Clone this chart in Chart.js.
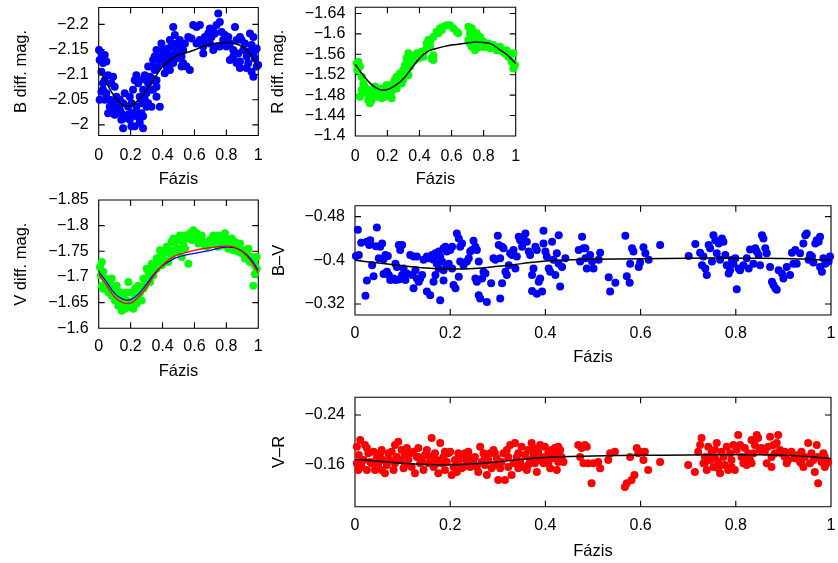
<!DOCTYPE html>
<html>
<head>
<meta charset="utf-8">
<script src="https://cdn.jsdelivr.net/npm/chart.js@4"></script>
<style>
  html, body { margin: 0; padding: 0; background: #fff; }
  body { width: 838px; height: 563px; position: relative; overflow: hidden; }
  canvas { position: absolute; }
</style>
</head>
<body>
<canvas id="panelB"></canvas>
<canvas id="panelR"></canvas>
<canvas id="panelV"></canvas>
<canvas id="panelBV"></canvas>
<canvas id="panelVR"></canvas>
<script>
// ---- phase axis ----
const phaseTicks = [0, 0.2, 0.4, 0.6, 0.8, 1];
const phaseLabels = ['0', '0.2', '0.4', '0.6', '0.8', '1'];

// ---- magnitude / colour-index ticks ----
const bTicks = [-2.2, -2.15, -2.1, -2.05, -2];
const bLabels = ['\u22122.2', '\u22122.15', '\u22122.1', '\u22122.05', '\u22122'];
const rTicks = [-1.64, -1.6, -1.56, -1.52, -1.48, -1.44, -1.4];
const rLabels = ['\u22121.64', '\u22121.6', '\u22121.56', '\u22121.52', '\u22121.48', '\u22121.44', '\u22121.4'];
const vTicks = [-1.85, -1.8, -1.75, -1.7, -1.65, -1.6];
const vLabels = ['\u22121.85', '\u22121.8', '\u22121.75', '\u22121.7', '\u22121.65', '\u22121.6'];
const bvTicks = [-0.48, -0.4, -0.32];
const bvLabels = ['\u22120.48', '\u22120.4', '\u22120.32'];
const vrTicks = [-0.24, -0.16];
const vrLabels = ['\u22120.24', '\u22120.16'];

// ---- fitted light curves ----
const fitPhase = [0, 0.05, 0.1, 0.15, 0.2, 0.25, 0.3, 0.35, 0.4, 0.45, 0.5, 0.55, 0.6, 0.65, 0.7, 0.75, 0.8, 0.85, 0.9, 0.95, 1];
const bFit = [-2.113, -2.083, -2.056, -2.040, -2.038, -2.050, -2.070, -2.093, -2.116, -2.130, -2.139, -2.144, -2.149, -2.156, -2.160, -2.163, -2.164, -2.162, -2.156, -2.141, -2.113];
const rFit = [-1.540, -1.519, -1.501, -1.491, -1.491, -1.499, -1.512, -1.532, -1.552, -1.565, -1.571, -1.575, -1.578, -1.580, -1.582, -1.584, -1.583, -1.580, -1.569, -1.558, -1.542];
const vFitRed = [-1.706, -1.683, -1.661, -1.650, -1.649, -1.661, -1.680, -1.704, -1.723, -1.736, -1.744, -1.748, -1.752, -1.755, -1.757, -1.759, -1.760, -1.758, -1.749, -1.733, -1.708];
const vFitBlue = [-1.711, -1.690, -1.668, -1.657, -1.656, -1.667, -1.686, -1.707, -1.722, -1.732, -1.739, -1.743, -1.746, -1.749, -1.752, -1.756, -1.758, -1.757, -1.750, -1.736, -1.713];
const colourFitPhase = [0, 0.05, 0.1, 0.15, 0.2, 0.25, 0.3, 0.35, 0.4, 0.45, 0.5, 0.6, 0.7, 0.8, 0.85, 0.9, 0.95, 1];
const bvFit = [-0.400, -0.395, -0.390, -0.386, -0.384, -0.385, -0.389, -0.394, -0.399, -0.401, -0.402, -0.403, -0.404, -0.404, -0.404, -0.4035, -0.402, -0.400];
const vrFit = [-0.169, -0.166, -0.163, -0.161, -0.1605, -0.162, -0.165, -0.169, -0.172, -0.1735, -0.1745, -0.1755, -0.176, -0.1765, -0.1765, -0.1755, -0.1735, -0.1705];

// ---- observations: [phase, value] ----
const bObs = [[.017,-2.142],[.006,-2.129],[.038,-2.139],[.027,-2.123],[.048,-2.126],[.017,-2.106],[.038,-2.089],[.059,-2.099],[.027,-2.070],[.048,-2.063],[.069,-2.050],[.079,-2.083],[.090,-2.096],[.100,-2.076],[.069,-2.036],[.090,-2.043],[.111,-2.056],[.121,-2.030],[.132,-2.050],[.142,-2.023],[.153,-2.043],[.163,-2.063],[.174,-2.017],[.184,-2.036],[.195,-2.056],[.205,-2.043],[.215,-2.070],[.226,-2.089],[.236,-2.099],[.247,-2.083],[.215,-2.023],[.236,-2.036],[.257,-2.056],[.268,-2.043],[.278,-2.017],[.257,-2.010],[.226,-1.997],[.205,-1.997],[.153,-1.993],[.278,-1.993],[.247,-2.023],[.299,-2.063],[.310,-2.083],[.320,-2.096],[.331,-2.116],[.341,-2.129],[.351,-2.109],[.362,-2.089],[.372,-2.116],[.383,-2.136],[.393,-2.162],[.404,-2.149],[.414,-2.123],[.383,-2.036],[.362,-2.056],[.341,-2.070],[.425,-2.136],[.435,-2.152],[.446,-2.169],[.456,-2.156],[.467,-2.195],[.477,-2.179],[.487,-2.162],[.498,-2.149],[.508,-2.169],[.519,-2.136],[.529,-2.123],[.519,-2.116],[.550,-2.116],[.571,-2.109],[.561,-2.175],[.582,-2.172],[.592,-2.199],[.613,-2.195],[.634,-2.199],[.613,-2.162],[.634,-2.169],[.655,-2.156],[.676,-2.166],[.686,-2.182],[.697,-2.192],[.707,-2.175],[.718,-2.189],[.728,-2.182],[.738,-2.199],[.749,-2.222],[.759,-2.205],[.770,-2.185],[.780,-2.169],[.791,-2.179],[.801,-2.156],[.812,-2.175],[.822,-2.162],[.843,-2.149],[.854,-2.195],[.864,-2.169],[.874,-2.142],[.885,-2.175],[.906,-2.149],[.927,-2.136],[.937,-2.123],[.948,-2.182],[.958,-2.159],[.969,-2.175],[.979,-2.132],[.990,-2.116],[.969,-2.096],[.958,-2.106],[.999,-2.119],[.927,-2.113],[.885,-2.126],[.843,-2.136],[.822,-2.129],[.759,-2.156],[.718,-2.149],[.697,-2.162],[.655,-2.142],[.665,-2.175],[.738,-2.156],[.895,-2.169],[.916,-2.162],[.937,-2.146],[.979,-2.149],[.990,-2.152],[.969,-2.142],[.885,-2.113],[.864,-2.123],[.006,-2.050],[.017,-2.066],[.027,-2.083],[.038,-2.050],[.059,-2.023],[.079,-2.027],[.100,-2.020],[.111,-2.036],[.132,-2.030],[.142,-2.010],[.163,-2.013],[.184,-2.020],[.195,-2.010],[.205,-2.023],[.226,-2.020],[.236,-2.017],[.257,-2.003],[.268,-2.023],[.299,-2.036],[.331,-2.036],[.320,-2.070],[.289,-2.050],[.310,-2.043],[.278,-2.070],[.257,-2.089],[.289,-2.099],[.299,-2.089],[.310,-2.116],[.331,-2.093],[.341,-2.089],[.362,-2.076],[.351,-2.136],[.362,-2.149],[.372,-2.129],[.404,-2.132],[.414,-2.103],[.425,-2.116],[.435,-2.139],[.446,-2.123],[.456,-2.132],[.477,-2.142],[.487,-2.132],[.508,-2.156],[.529,-2.149],[.540,-2.162],[.467,-2.123],[.446,-2.109],[.002,-2.149]];

const rObs = [[.008,-1.542],[.012,-1.529],[.019,-1.545],[.029,-1.536],[.040,-1.516],[.050,-1.503],[.040,-1.490],[.060,-1.497],[.071,-1.484],[.081,-1.470],[.091,-1.477],[.102,-1.490],[.112,-1.484],[.123,-1.497],[.133,-1.477],[.143,-1.490],[.154,-1.484],[.164,-1.474],[.175,-1.487],[.185,-1.477],[.195,-1.490],[.206,-1.480],[.216,-1.497],[.227,-1.474],[.237,-1.503],[.247,-1.510],[.258,-1.516],[.268,-1.506],[.279,-1.523],[.289,-1.516],[.299,-1.529],[.310,-1.539],[.320,-1.552],[.331,-1.562],[.341,-1.536],[.351,-1.545],[.362,-1.555],[.372,-1.549],[.383,-1.562],[.393,-1.552],[.403,-1.558],[.414,-1.565],[.424,-1.555],[.435,-1.568],[.445,-1.581],[.455,-1.588],[.466,-1.585],[.476,-1.552],[.486,-1.558],[.486,-1.594],[.507,-1.604],[.518,-1.601],[.528,-1.611],[.538,-1.607],[.549,-1.614],[.570,-1.617],[.590,-1.617],[.611,-1.611],[.632,-1.604],[.642,-1.601],[.486,-1.549],[.466,-1.575],[.705,-1.614],[.726,-1.611],[.715,-1.601],[.736,-1.604],[.746,-1.594],[.757,-1.601],[.767,-1.588],[.778,-1.594],[.726,-1.575],[.736,-1.581],[.757,-1.572],[.788,-1.575],[.798,-1.585],[.819,-1.575],[.830,-1.581],[.840,-1.572],[.861,-1.578],[.881,-1.568],[.902,-1.575],[.923,-1.565],[.933,-1.562],[.944,-1.568],[.965,-1.558],[.985,-1.562],[.975,-1.545],[.985,-1.532],[.996,-1.539],[.029,-1.477],[.091,-1.464],[.071,-1.490],[.102,-1.470],[.154,-1.493],[.195,-1.500],[.185,-1.493],[.227,-1.487],[.258,-1.493],[.289,-1.503],[.320,-1.526],[.331,-1.519],[.299,-1.510],[.341,-1.552],[.424,-1.565],[.705,-1.588],[.715,-1.581],[.746,-1.568],[.767,-1.578],[.798,-1.575],[.850,-1.575],[.871,-1.572],[.902,-1.568],[.954,-1.555]];

const vObs = [[.008,-1.719],[.019,-1.729],[.013,-1.703],[.029,-1.710],[.040,-1.697],[.019,-1.683],[.029,-1.677],[.050,-1.683],[.061,-1.670],[.071,-1.690],[.081,-1.664],[.092,-1.677],[.102,-1.654],[.113,-1.664],[.123,-1.644],[.134,-1.657],[.144,-1.634],[.155,-1.648],[.165,-1.638],[.175,-1.654],[.186,-1.690],[.196,-1.641],[.207,-1.651],[.217,-1.638],[.228,-1.657],[.238,-1.648],[.248,-1.661],[.259,-1.670],[.269,-1.654],[.280,-1.677],[.290,-1.683],[.301,-1.697],[.311,-1.710],[.322,-1.690],[.332,-1.713],[.342,-1.703],[.353,-1.723],[.363,-1.716],[.374,-1.729],[.384,-1.739],[.395,-1.723],[.405,-1.746],[.416,-1.732],[.426,-1.749],[.436,-1.729],[.447,-1.752],[.457,-1.742],[.468,-1.775],[.478,-1.768],[.489,-1.755],[.499,-1.749],[.509,-1.772],[.520,-1.739],[.530,-1.762],[.541,-1.781],[.551,-1.775],[.562,-1.726],[.572,-1.785],[.583,-1.772],[.593,-1.791],[.614,-1.778],[.624,-1.765],[.635,-1.775],[.656,-1.768],[.666,-1.762],[.676,-1.759],[.697,-1.772],[.718,-1.781],[.729,-1.765],[.739,-1.775],[.750,-1.759],[.760,-1.768],[.770,-1.778],[.781,-1.762],[.791,-1.785],[.802,-1.772],[.812,-1.755],[.823,-1.765],[.833,-1.775],[.844,-1.752],[.854,-1.768],[.864,-1.759],[.875,-1.749],[.885,-1.765],[.896,-1.746],[.906,-1.752],[.917,-1.736],[.927,-1.742],[.938,-1.755],[.948,-1.729],[.958,-1.739],[.969,-1.732],[.979,-1.723],[.990,-1.739],[.969,-1.683],[.081,-1.697],[.113,-1.683],[.134,-1.670],[.155,-1.664],[.175,-1.670],[.207,-1.670],[.228,-1.677],[.248,-1.683],[.280,-1.697],[.301,-1.716],[.332,-1.726],[.363,-1.736],[.384,-1.752],[.426,-1.759],[.457,-1.768],[.509,-1.781],[.541,-1.755],[.614,-1.785],[.645,-1.781],[.687,-1.762],[.750,-1.781],[.791,-1.768],[.844,-1.765],[.885,-1.755],[.927,-1.749],[.979,-1.706],[.990,-1.716]];

const bvObs = [[.006,-.456],[.008,-.410],[.002,-.408],[.013,-.432],[.025,-.434],[.030,-.428],[.032,-.437],[.046,-.460],[.044,-.426],[.053,-.425],[.057,-.431],[.050,-.404],[.036,-.391],[.025,-.363],[.039,-.371],[.022,-.335],[.060,-.402],[.064,-.410],[.069,-.408],[.060,-.375],[.067,-.379],[.071,-.373],[.074,-.364],[.081,-.367],[.085,-.394],[.088,-.388],[.092,-.428],[.099,-.428],[.095,-.419],[.085,-.364],[.092,-.365],[.099,-.373],[.102,-.385],[.106,-.364],[.109,-.376],[.116,-.410],[.120,-.373],[.123,-.407],[.127,-.382],[.130,-.407],[.134,-.361],[.137,-.367],[.141,-.373],[.123,-.349],[.130,-.367],[.144,-.401],[.151,-.407],[.155,-.404],[.162,-.410],[.165,-.401],[.169,-.413],[.172,-.394],[.176,-.416],[.179,-.407],[.183,-.398],[.186,-.422],[.190,-.425],[.193,-.416],[.197,-.394],[.151,-.343],[.158,-.336],[.165,-.361],[.169,-.373],[.179,-.327],[.186,-.363],[.176,-.385],[.186,-.382],[.193,-.391],[.200,-.419],[.204,-.425],[.207,-.355],[.211,-.349],[.214,-.449],[.218,-.440],[.221,-.425],[.225,-.431],[.204,-.385],[.218,-.370],[.221,-.398],[.228,-.391],[.235,-.398],[.239,-.404],[.242,-.416],[.246,-.419],[.249,-.436],[.253,-.425],[.256,-.419],[.260,-.398],[.253,-.367],[.256,-.361],[.260,-.336],[.263,-.330],[.267,-.367],[.270,-.379],[.274,-.376],[.277,-.324],[.286,-.358],[.291,-.404],[.295,-.401],[.300,-.445],[.302,-.428],[.305,-.404],[.309,-.425],[.312,-.422],[.309,-.358],[.305,-.330],[.316,-.379],[.319,-.373],[.323,-.391],[.326,-.413],[.330,-.410],[.333,-.419],[.337,-.385],[.340,-.407],[.344,-.443],[.347,-.437],[.351,-.425],[.354,-.440],[.358,-.449],[.361,-.434],[.365,-.416],[.368,-.410],[.372,-.373],[.375,-.385],[.379,-.425],[.382,-.419],[.386,-.361],[.389,-.367],[.372,-.344],[.382,-.339],[.393,-.343],[.396,-.454],[.396,-.431],[.400,-.416],[.403,-.407],[.407,-.385],[.410,-.379],[.414,-.434],[.417,-.401],[.421,-.373],[.424,-.413],[.428,-.446],[.428,-.394],[.431,-.352],[.435,-.388],[.442,-.404],[.470,-.419],[.477,-.443],[.480,-.422],[.473,-.398],[.484,-.404],[.487,-.385],[.494,-.410],[.498,-.398],[.501,-.385],[.484,-.422],[.515,-.414],[.512,-.401],[.533,-.369],[.536,-.343],[.547,-.359],[.568,-.445],[.571,-.371],[.577,-.359],[.582,-.422],[.585,-.416],[.578,-.394],[.596,-.388],[.599,-.396],[.606,-.424],[.610,-.413],[.617,-.401],[.641,-.428],[.701,-.408],[.715,-.430],[.725,-.414],[.729,-.391],[.732,-.407],[.736,-.385],[.739,-.373],[.743,-.428],[.746,-.422],[.750,-.398],[.753,-.446],[.757,-.437],[.760,-.413],[.764,-.431],[.767,-.401],[.771,-.440],[.774,-.434],[.778,-.410],[.781,-.391],[.785,-.376],[.788,-.382],[.792,-.401],[.795,-.394],[.799,-.404],[.802,-.347],[.806,-.385],[.809,-.382],[.816,-.391],[.823,-.404],[.827,-.385],[.830,-.420],[.837,-.394],[.841,-.422],[.844,-.416],[.848,-.410],[.851,-.391],[.855,-.446],[.858,-.440],[.862,-.422],[.865,-.413],[.872,-.388],[.876,-.361],[.879,-.355],[.883,-.349],[.886,-.346],[.890,-.382],[.897,-.376],[.900,-.367],[.907,-.388],[.914,-.373],[.918,-.414],[.921,-.394],[.925,-.419],[.928,-.394],[.935,-.413],[.942,-.431],[.946,-.446],[.949,-.449],[.953,-.401],[.956,-.410],[.960,-.407],[.963,-.396],[.967,-.431],[.970,-.437],[.974,-.434],[.977,-.443],[.977,-.388],[.981,-.379],[.984,-.404],[.988,-.394],[.995,-.398],[.998,-.407]];

const vrObs = [[.004,-.189],[.007,-.152],[.011,-.200],[.008,-.176],[.018,-.168],[.021,-.192],[.025,-.152],[.028,-.179],[.035,-.163],[.039,-.181],[.042,-.152],[.046,-.171],[.049,-.163],[.053,-.179],[.056,-.184],[.060,-.168],[.063,-.147],[.067,-.160],[.070,-.179],[.074,-.168],[.077,-.181],[.084,-.163],[.088,-.173],[.091,-.197],[.095,-.168],[.098,-.184],[.102,-.155],[.105,-.176],[.109,-.187],[.112,-.168],[.116,-.179],[.119,-.157],[.123,-.181],[.126,-.147],[.130,-.173],[.133,-.187],[.137,-.163],[.140,-.168],[.144,-.152],[.147,-.176],[.151,-.184],[.154,-.163],[.158,-.173],[.161,-.203],[.165,-.157],[.168,-.179],[.172,-.168],[.175,-.147],[.179,-.195],[.182,-.163],[.186,-.173],[.189,-.152],[.193,-.165],[.196,-.179],[.200,-.181],[.203,-.144],[.207,-.157],[.210,-.168],[.214,-.149],[.217,-.163],[.221,-.173],[.224,-.155],[.228,-.171],[.231,-.179],[.235,-.165],[.238,-.181],[.242,-.157],[.245,-.168],[.249,-.163],[.252,-.173],[.256,-.157],[.259,-.149],[.263,-.189],[.266,-.165],[.270,-.179],[.273,-.160],[.277,-.144],[.280,-.168],[.284,-.179],[.287,-.155],[.291,-.160],[.294,-.179],[.298,-.171],[.301,-.136],[.305,-.155],[.308,-.165],[.312,-.179],[.315,-.136],[.319,-.184],[.322,-.157],[.326,-.192],[.329,-.144],[.333,-.163],[.336,-.195],[.340,-.173],[.343,-.179],[.347,-.165],[.350,-.189],[.354,-.157],[.357,-.176],[.361,-.152],[.364,-.184],[.368,-.168],[.371,-.195],[.375,-.176],[.378,-.163],[.382,-.149],[.385,-.181],[.389,-.192],[.392,-.173],[.396,-.163],[.399,-.189],[.403,-.168],[.406,-.179],[.410,-.155],[.413,-.184],[.417,-.171],[.420,-.176],[.424,-.152],[.427,-.189],[.431,-.184],[.434,-.173],[.438,-.165],[.469,-.192],[.473,-.173],[.476,-.187],[.480,-.163],[.483,-.192],[.487,-.189],[.490,-.163],[.497,-.131],[.501,-.163],[.511,-.165],[.515,-.155],[.532,-.168],[.536,-.179],[.546,-.181],[.567,-.125],[.571,-.131],[.578,-.173],[.581,-.136],[.587,-.144],[.592,-.187],[.595,-.179],[.599,-.181],[.606,-.168],[.609,-.181],[.616,-.152],[.641,-.165],[.700,-.160],[.714,-.149],[.721,-.181],[.725,-.192],[.728,-.203],[.732,-.163],[.735,-.173],[.739,-.152],[.742,-.189],[.746,-.168],[.749,-.179],[.753,-.157],[.756,-.184],[.760,-.195],[.763,-.165],[.767,-.147],[.770,-.181],[.774,-.173],[.777,-.160],[.781,-.189],[.784,-.152],[.788,-.179],[.791,-.168],[.795,-.192],[.798,-.152],[.802,-.184],[.805,-.208],[.809,-.192],[.812,-.173],[.816,-.163],[.819,-.187],[.823,-.160],[.826,-.179],[.830,-.168],[.833,-.200],[.837,-.179],[.840,-.192],[.844,-.208],[.847,-.203],[.851,-.184],[.854,-.187],[.861,-.181],[.865,-.163],[.868,-.189],[.872,-.205],[.875,-.173],[.879,-.192],[.882,-.179],[.886,-.195],[.889,-.208],[.893,-.184],[.896,-.179],[.903,-.173],[.907,-.163],[.910,-.168],[.917,-.181],[.924,-.171],[.931,-.176],[.935,-.165],[.938,-.181],[.942,-.157],[.945,-.173],[.952,-.195],[.956,-.163],[.959,-.179],[.963,-.168],[.966,-.149],[.970,-.192],[.973,-.131],[.973,-.173],[.980,-.165],[.984,-.179],[.987,-.173],[.991,-.163],[.994,-.165],[.014,-.157],[.032,-.165],[.056,-.152],[.081,-.152],[.105,-.160],[.133,-.173],[.161,-.165],[.189,-.181],[.217,-.179],[.242,-.171],[.273,-.173],[.301,-.165],[.322,-.173],[.343,-.155],[.364,-.160],[.385,-.168],[.406,-.163],[.427,-.165],[.004,-.163],[.025,-.187],[.084,-.192],[.168,-.160],[.228,-.157],[.291,-.184],[.375,-.187],[.420,-.187],[.735,-.163],[.763,-.155],[.791,-.157],[.833,-.163],[.875,-.157],[.903,-.181],[.938,-.163],[.987,-.157],[.756,-.171],[.819,-.171]];

// ---- shared drawing helpers ----
const FONT_FAMILY = "'Liberation Sans', Arial, Helvetica, sans-serif";
const tickFont = { family: FONT_FAMILY, size: 16 };
const titleFont = { family: FONT_FAMILY, size: 16.5 };
const TICK_LEN = 6;

// gnuplot-style box: border plus inward ticks mirrored on all four sides
const framePlugin = {
  id: 'frame',
  beforeDatasetsDraw(chart) {
    const { ctx, chartArea: a, scales: { x, y } } = chart;
    ctx.save();
    ctx.strokeStyle = '#000';
    ctx.lineWidth = 1.1;
    ctx.beginPath();
    ctx.rect(a.left, a.top, a.right - a.left, a.bottom - a.top);
    x.ticks.forEach(t => {
      const px = x.getPixelForValue(t.value);
      ctx.moveTo(px, a.bottom); ctx.lineTo(px, a.bottom - TICK_LEN);
      ctx.moveTo(px, a.top); ctx.lineTo(px, a.top + TICK_LEN);
    });
    y.ticks.forEach(t => {
      const py = y.getPixelForValue(t.value);
      ctx.moveTo(a.left, py); ctx.lineTo(a.left + TICK_LEN, py);
      ctx.moveTo(a.right, py); ctx.lineTo(a.right - TICK_LEN, py);
    });
    ctx.stroke();
    ctx.restore();
  }
};

function pairs(xs, ys) { return xs.map((x, i) => ({ x, y: ys[i] })); }
function points(list) { return list.map(p => ({ x: p[0], y: p[1] })); }

function curve(xs, ys, color, width) {
  return {
    type: 'line', data: pairs(xs, ys), borderColor: color, borderWidth: width,
    pointRadius: 0, tension: 0.4, fill: false, clip: false
  };
}
function scatter(list, color) {
  return {
    type: 'scatter', data: points(list), backgroundColor: color, borderWidth: 0,
    pointRadius: 4, pointHoverRadius: 4, clip: false
  };
}

function panel(id, box, area, cfg) {
  const cv = document.getElementById(id);
  cv.width = box.w; cv.height = box.h;
  cv.style.left = box.x + 'px'; cv.style.top = box.y + 'px';
  return new Chart(cv, {
    type: 'scatter',
    data: { datasets: cfg.datasets },
    options: {
      responsive: false, animation: false, events: [],
      layout: { padding: { left: 0, bottom: 0, top: area.t - box.y, right: box.x + box.w - area.r } },
      plugins: { legend: { display: false }, tooltip: { enabled: false } },
      scales: {
        x: {
          type: 'linear', position: 'bottom', min: 0, max: 1, bounds: 'data',
          grid: { display: false, drawTicks: false }, border: { display: false },
          ticks: { color: '#000', font: tickFont, padding: cfg.xPad, maxRotation: 0, autoSkip: false,
                   callback: (v, i) => phaseLabels[i] },
          afterBuildTicks: s => { s.ticks = phaseTicks.map(v => ({ value: v })); },
          afterFit: s => { s.height = box.y + box.h - area.b; s.paddingLeft = 0; s.paddingRight = 0; },
          title: { display: true, text: 'Fázis', color: '#000', font: titleFont,
                   padding: { top: 0, bottom: cfg.xTitlePad } }
        },
        y: {
          type: 'linear', position: 'left', reverse: true, min: cfg.yMin, max: cfg.yMax, bounds: 'data',
          grid: { display: false, drawTicks: false }, border: { display: false },
          ticks: { color: '#000', font: tickFont, padding: 10, autoSkip: false,
                   callback: (v, i) => cfg.yLabels[i] },
          afterBuildTicks: s => { s.ticks = cfg.yTicks.map(v => ({ value: v })); },
          afterFit: s => { s.width = area.l - box.x; s.paddingTop = 0; s.paddingBottom = 0; },
          title: { display: true, text: cfg.yTitle, color: '#000', font: titleFont,
                   padding: { top: cfg.yTitlePad, bottom: 0 } }
        }
      }
    },
    plugins: [framePlugin]
  });
}

// B band
panel('panelB', { x: 0, y: 0, w: 270, h: 190 }, { l: 98.7, t: 7.5, r: 258.3, b: 135.5 }, {
  yMin: -2.2337, yMax: -1.9788, yTicks: bTicks, yLabels: bLabels, yTitle: 'B diff. mag.',
  yTitlePad: 11.8, xPad: 10.5, xTitlePad: 1.1,
  datasets: [curve(fitPhase, bFit, '#000', 1.5), scatter(bObs, '#0000ff')]
});

// R band
panel('panelR', { x: 260, y: 0, w: 270, h: 190 }, { l: 355.3, t: 7.3, r: 515.7, b: 136 }, {
  yMin: -1.652, yMax: -1.4, yTicks: rTicks, yLabels: rLabels, yTitle: 'R diff. mag.',
  yTitlePad: 8.4, xPad: 10.5, xTitlePad: 1.1,
  datasets: [curve(fitPhase, rFit, '#000', 1.5), scatter(rObs, '#00ff00')]
});

// V band with two model curves
panel('panelV', { x: 0, y: 185, w: 270, h: 200 }, { l: 98.7, t: 200, r: 258.3, b: 328.3 }, {
  yMin: -1.85, yMax: -1.6, yTicks: vTicks, yLabels: vLabels, yTitle: 'V diff. mag.',
  yTitlePad: 11.8, xPad: 8.6, xTitlePad: 4.1,
  datasets: [curve(fitPhase, vFitRed, '#ff0000', 1.3), curve(fitPhase, vFitBlue, '#0000ff', 1.3), scatter(vObs, '#00ff00')]
});

// B–V colour index
panel('panelBV', { x: 260, y: 195, w: 578, h: 175 }, { l: 355, t: 205.7, r: 831, b: 315 }, {
  yMin: -0.5, yMax: -0.3, yTicks: bvTicks, yLabels: bvLabels, yTitle: 'B\u2013V',
  yTitlePad: 9.1, xPad: 9.4, xTitlePad: 3.1,
  datasets: [curve(colourFitPhase, bvFit, '#000', 1.5), scatter(bvObs, '#0000ff')]
});

// V–R colour index
panel('panelVR', { x: 260, y: 390, w: 578, h: 173 }, { l: 355, t: 397.3, r: 831, b: 506.7 }, {
  yMin: -0.2683, yMax: -0.0933, yTicks: vrTicks, yLabels: vrLabels, yTitle: 'V\u2013R',
  yTitlePad: 9.1, xPad: 9, xTitlePad: 2.1,
  datasets: [curve(colourFitPhase, vrFit, '#000', 1.5), scatter(vrObs, '#ff0000')]
});
</script>
</body>
</html>
